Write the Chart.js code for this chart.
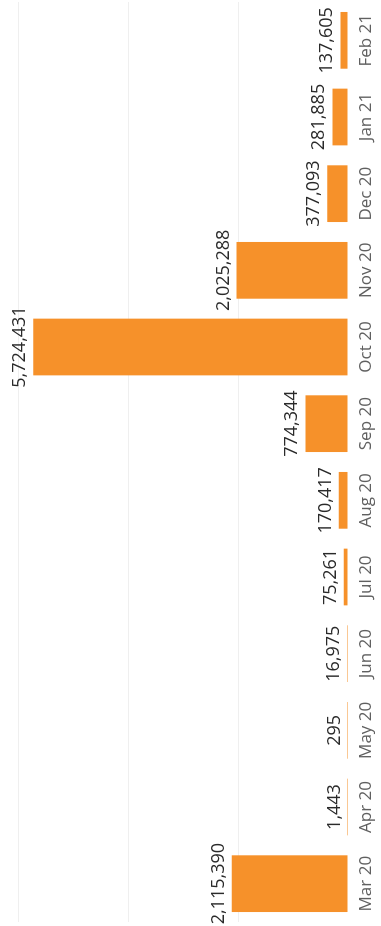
<!DOCTYPE html>
<html>
<head>
<meta charset="utf-8">
<script src="https://cdn.jsdelivr.net/npm/chart.js@4/dist/chart.umd.min.js"></script>
<style>
  html, body { margin: 0; padding: 0; background: #fff; overflow: hidden; }
  /* the chart is laid out sideways and turned a quarter to fit the tall page */
  #wrap {
    position: absolute; left: 0; top: 0;
    width: 926px; height: 381px;
    transform-origin: 0 0;
    transform: translateY(926px) rotate(-90deg);
  }
</style>
</head>
<body>
<div id="wrap"><canvas id="chart" width="926" height="381"></canvas></div>
<script>
const months = ['Mar 20', 'Apr 20', 'May 20', 'Jun 20', 'Jul 20', 'Aug 20',
                'Sep 20', 'Oct 20', 'Nov 20', 'Dec 20', 'Jan 21', 'Feb 21'];
const counts = [2115390, 1443, 295, 16975, 75261, 170417,
                774344, 5724431, 2025288, 377093, 281885, 137605];
const gridValues = [0, 2000000, 4000000, 6000000];

// numbers written above each bar
const valueLabels = {
  id: 'valueLabels',
  afterDatasetsDraw(chart) {
    const ctx = chart.ctx;
    const meta = chart.getDatasetMeta(0);
    ctx.save();
    ctx.font = '18px "Open Sans"';
    ctx.fillStyle = '#2a2a2a';
    ctx.textAlign = 'center';
    ctx.textBaseline = 'alphabetic';
    meta.data.forEach((bar, i) => {
      ctx.fillText(counts[i].toLocaleString('en-US'), bar.x, bar.y - 8);
    });
    ctx.restore();
  }
};

const ctx = document.getElementById('chart').getContext('2d');
new Chart(ctx, {
  type: 'bar',
  data: {
    labels: months,
    datasets: [{
      data: counts,
      backgroundColor: '#f6912a',
      borderWidth: 0,
      categoryPercentage: 1,
      barPercentage: 0.74
    }]
  },
  options: {
    responsive: false,
    animation: false,
    devicePixelRatio: 1,
    layout: { padding: { left: 4, right: 2, top: 18, bottom: 0 } },
    plugins: {
      legend: { display: false },
      tooltip: { enabled: false }
    },
    scales: {
      x: {
        grid: { display: false, drawTicks: false },
        border: { display: false },
        ticks: {
          font: { family: 'Open Sans', size: 17 },
          color: '#606060',
          maxRotation: 0,
          autoSkip: false,
          padding: 8
        },
        afterFit: scale => { scale.height = 33; }
      },
      y: {
        min: gridValues[0],
        max: gridValues[gridValues.length - 1],
        afterBuildTicks: scale => {
          scale.ticks = gridValues.map(v => ({ value: v }));
        },
        ticks: { display: false },
        grid: {
          drawTicks: false,
          color: c => (c.tick && c.tick.value === 0 ? 'rgba(0,0,0,0)' : '#efefef')
        },
        border: { display: false }
      }
    }
  },
  plugins: [valueLabels]
});
</script>
</body>
</html>
